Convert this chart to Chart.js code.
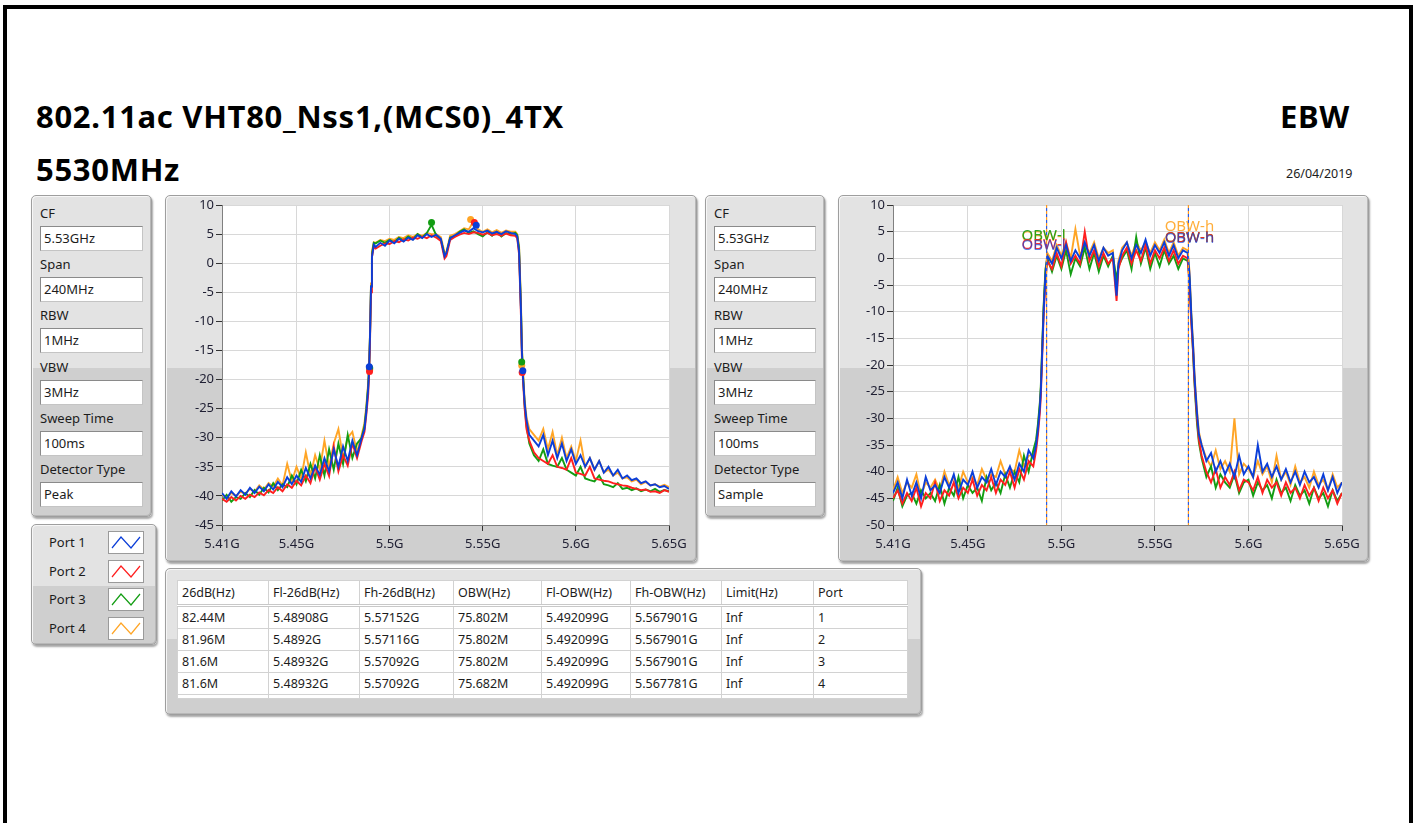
<!DOCTYPE html>
<html>
<head>
<meta charset="utf-8">
<title>EBW 802.11ac VHT80</title>
<script src="https://cdn.jsdelivr.net/npm/chart.js@4.4.1/dist/chart.umd.min.js"></script>
<style>
  body { margin:0; width:1415px; height:823px; background:#fff; overflow:hidden; position:relative;
         font-family:"Noto Sans", sans-serif; color:#1c1c1c; }
  .frame { position:absolute; left:3px; top:5px; width:1402px; height:900px; border:4px solid #000; }
  .big { position:absolute; font-weight:bold; font-size:31px; letter-spacing:0.7px; line-height:1; color:#000; white-space:nowrap; }
  .panel { position:absolute; box-sizing:border-box; border:1px solid #9e9e9e; border-radius:5px;
           box-shadow: inset 1px 1px 0 #f6f6f6, inset -1px -1px 0 #b8b8b8, 1px 2px 2px rgba(0,0,0,0.35); }
  .lbl { position:absolute; left:8px; height:18px; line-height:18px; font-size:13px; white-space:nowrap; }
  .field { position:absolute; left:8px; height:25px; box-sizing:border-box; background:#fff;
           border:1px solid #8a8a8a; border-right-color:#c4c4c4; border-bottom-color:#c4c4c4;
           font-size:13px; line-height:22px; padding-left:3px; }
  .chartbox { position:absolute; }
  .legrow { position:absolute; left:0; width:126px; height:24px; }
  .legrow span { position:absolute; left:17px; top:3px; font-size:13px; line-height:18px; }
  .legrow svg { position:absolute; left:76px; top:1px; }
  table { position:absolute; left:11px; top:11px; border-collapse:collapse; table-layout:fixed; background:#fff;
          border:1px solid #8c8c8c; font-size:12.5px; }
  td { border:1px solid #d2d2d2; height:21px; padding:0 0 0 4px; white-space:nowrap; overflow:hidden; }
  tr.head td { height:23px; border-bottom:3px double #c8c8c8; }
  tr.stub td { height:3px; }
</style>
</head>
<body>
<div class="frame"></div>
<div class="big" style="left:36px; top:101px;">802.11ac VHT80_Nss1,(MCS0)_4TX</div>
<div class="big" style="left:36px; top:154px;">5530MHz</div>
<div class="big" style="left:1280px; top:101px;">EBW</div>
<div style="position:absolute; left:1286px; top:166px; font-size:12.5px; line-height:16px;">26/04/2019</div>

<div class="panel" id="set1" style="left:31px; top:195px; width:121px; height:322px; background:linear-gradient(#e3e3e3 0 172px, #cfcfcf 172px);"></div>
<div class="panel" id="legend" style="left:31px; top:524px; width:126px; height:121px; background:linear-gradient(#e3e3e3 0 61px, #cfcfcf 61px);"></div>
<div class="panel" style="left:165px; top:195px; width:532px; height:367px; background:linear-gradient(#e3e3e3 0 172px, #cfcfcf 172px);"></div>
<div class="chartbox" style="left:165px; top:195px; width:532px; height:367px;"><canvas id="peakChart"></canvas></div>
<div class="panel" id="set2" style="left:705px; top:195px; width:120px; height:322px; background:linear-gradient(#e3e3e3 0 172px, #cfcfcf 172px);"></div>
<div class="panel" style="left:838px; top:195px; width:531px; height:367px; background:linear-gradient(#e3e3e3 0 172px, #cfcfcf 172px);"></div>
<div class="chartbox" style="left:838px; top:195px; width:531px; height:367px;"><canvas id="sampleChart"></canvas></div>
<div class="panel" id="tablePanel" style="left:165px; top:568px; width:757px; height:147px; background:linear-gradient(#e3e3e3 0 70px, #cfcfcf 70px);"></div>

<script>
// ---- analyzer settings ----
const settingNames = ['CF', 'Span', 'RBW', 'VBW', 'Sweep Time', 'Detector Type'];
const settingsPeak = ['5.53GHz', '240MHz', '1MHz', '3MHz', '100ms', 'Peak'];
const settingsSample = ['5.53GHz', '240MHz', '1MHz', '3MHz', '100ms', 'Sample'];

// ---- ports ----
const portNames = ['Port 1', 'Port 2', 'Port 3', 'Port 4'];
const portColors = ['#0b3ed8', '#ff1f1f', '#139d13', '#ffa526'];

// ---- axes ----
const xTickVals = [5.41, 5.45, 5.5, 5.55, 5.6, 5.65];   // GHz

// frequency grid of the traces (GHz)
const freqs = [
  5.410, 5.4125, 5.415, 5.4175, 5.420, 5.4225, 5.425, 5.4275, 5.430, 5.4325,
  5.435, 5.4375, 5.440, 5.4425, 5.445, 5.4475, 5.450, 5.4525, 5.455, 5.4575,
  5.460, 5.4625, 5.465, 5.4675, 5.470, 5.4725, 5.475, 5.4775, 5.480, 5.4825, 5.485,
  5.4865, 5.4875, 5.4885, 5.489, 5.4895, 5.490, 5.4905, 5.4915, 5.4925,
  5.495, 5.4975, 5.500, 5.5025, 5.505, 5.5075, 5.510, 5.5125, 5.515, 5.5175,
  5.520, 5.5225, 5.525, 5.5275, 5.5295, 5.5305, 5.5325, 5.535, 5.5375, 5.540,
  5.5425, 5.545, 5.5475, 5.550, 5.5525, 5.555, 5.5575, 5.560, 5.5625, 5.565,
  5.5675, 5.5685, 5.5695, 5.5705, 5.571, 5.5715, 5.5725, 5.5735, 5.575,
  5.5775, 5.580, 5.5825, 5.585, 5.5875, 5.590, 5.5925, 5.595, 5.5975, 5.600,
  5.6025, 5.605, 5.6075, 5.610, 5.6125, 5.615, 5.6175, 5.620, 5.6225, 5.625,
  5.6275, 5.630, 5.6325, 5.635, 5.6375, 5.640, 5.6425, 5.645, 5.6475, 5.650
];

// ---- peak detector traces (dBm) ----
const peakPort1 = [
  -39.5,-40.5,-39.2,-40.1,-39.0,-39.8,-38.6,-39.5,-38.4,-39.2,-38.0,-38.9,-37.6,-38.5,-36.8,-38.0,-36.5,-37.6,-35.2,-37.0,-34.8,-36.4,-33.5,-35.8,-32.0,-35.0,-31.5,-34.0,-30.5,-33.0,-30.0,
  -28.5,-25.5,-21.5,-18,-12,-4,1,3.2,2.8,
  3.5,3.0,3.9,3.4,4.2,3.7,4.4,4.0,4.8,4.3,5.0,4.5,4.9,4.2,1.2,1.8,4.3,4.8,5.2,5.6,5.4,6.0,5.5,5.3,5.6,5.1,5.4,5.0,5.5,5.2,
  5.0,4.6,2.0,-8,-15,-19,-24,-27,-29.5,
  -30.5,-31.5,-29.5,-33,-30.5,-33.5,-31,-34,-32,-34.5,-33,-35,-33.5,-35.5,-34,-36,-35,-36.5,-35.5,-37,-36.5,-37.3,-37,-37.8,-37.5,-38.2,-38,-38.5,-38.3,-38.8
];
const peakPort2 = [
  -40.5,-41.0,-40.2,-40.8,-40.0,-40.5,-39.8,-40.2,-39.4,-39.9,-39.0,-39.5,-38.5,-39.2,-38.0,-38.6,-37.4,-38.2,-36.5,-37.8,-35.0,-37.2,-34.5,-36.6,-31.5,-35.8,-33.0,-34.8,-31.0,-33.5,-30.5,
  -29,-26,-22.5,-18.8,-13,-5,1,2.8,2.5,
  3.0,3.4,3.3,3.8,3.6,4.1,3.9,4.4,4.2,4.6,4.3,4.8,4.4,3.8,0.8,1.2,4.0,4.5,4.9,5.2,5.0,5.3,5.2,4.9,5.2,4.8,5.0,4.7,5.1,4.8,
  4.7,4.3,1.5,-9,-16,-19.5,-25,-28.5,-30.5,
  -32.5,-33.5,-34.0,-34.5,-33.0,-35.0,-35.2,-35.5,-33.5,-36.0,-36.2,-36.5,-35.0,-37.0,-37.2,-37.4,-37.5,-37.8,-38.0,-38.2,-38.3,-38.6,-38.8,-39.0,-38.9,-39.3,-39.2,-39.5,-39.0,-39.3
];
const peakPort3 = [
  -40.8,-39.8,-41.0,-40.2,-40.5,-39.5,-40.2,-39.0,-39.8,-38.6,-39.4,-37.8,-39.0,-38.0,-38.5,-36.5,-38.0,-35.5,-37.5,-34.5,-37.0,-33.0,-36.5,-32.0,-35.5,-31.0,-34.5,-29.5,-33.5,-31.0,-30.0,
  -28,-25,-21,-17.8,-12,-4,1.5,3.5,3.4,
  3.9,3.5,4.0,3.6,4.4,3.9,4.6,4.1,5.0,4.4,5.2,6.6,4.8,4.0,1.5,1.6,4.4,4.6,5.4,5.8,5.2,5.5,5.0,4.6,5.3,4.7,5.4,4.6,5.2,5.0,
  5.2,4.8,2.5,-7.5,-14.5,-18.5,-24.5,-28,-31,
  -33,-34,-32,-34.5,-34.8,-35,-33.5,-35.5,-36,-36.5,-35,-37,-37.3,-37.5,-36.5,-38,-38.2,-38.5,-37.8,-38.8,-38.6,-39,-38.7,-39.2,-38.9,-39.2,-38.8,-39.3,-39,-39.2
];
const peakPort4 = [
  -39.8,-40.3,-39.5,-40.0,-39.3,-39.6,-38.8,-39.3,-38.2,-38.9,-37.8,-38.4,-37.0,-38.2,-34.5,-37.5,-35.0,-37.0,-32.5,-36.5,-33.0,-35.5,-30.5,-35.0,-31.0,-28.5,-33.5,-30.0,-29.0,-32.5,-29.5,
  -27.5,-24.5,-20.5,-17.5,-11.5,-3.5,2,3.6,3.5,
  4.0,3.8,4.2,4.0,4.5,4.3,4.8,4.5,5.0,4.7,5.2,5.0,5.0,4.5,1.8,2.0,4.7,5.0,5.5,6.0,5.8,7.2,5.8,5.4,5.8,5.3,5.7,5.2,5.6,5.4,
  5.4,5.0,3.0,-6.5,-14,-18,-23.5,-26.5,-28.5,
  -29.5,-30.5,-28.5,-32.0,-29.0,-33.0,-30.0,-33.5,-31.5,-34.0,-30.5,-35.0,-33.5,-35.5,-34.0,-36.0,-35.5,-36.5,-36.0,-37.0,-36.8,-37.5,-37.2,-38.0,-37.6,-38.2,-38.0,-38.4,-38.1,-38.5
];

// markers on the peak chart: -26 dB edges and peak
const markerFreqs = [
  [5.48908, 5.57152, 5.5465],
  [5.4892, 5.57116, 5.5455],
  [5.48932, 5.57092, 5.5225],
  [5.48932, 5.57092, 5.5435]
];
const markerLevels = [
  [-17.8, -18.5, 6.5],
  [-18.6, -18.8, 7.0],
  [-18.0, -17.0, 7.0],
  [-18.3, -17.6, 7.5]
];

// ---- sample detector traces (dBm) ----
const samplePort1 = [
  -44,-42,-45,-41.5,-44.5,-42,-45,-41,-43.5,-42.5,-44,-41,-43,-40.5,-44,-41.5,-42.5,-40,-43,-41,-42,-39.5,-42.5,-40,-41,-39,-41.5,-38.5,-40,-36,-37.5,
  -35,-32,-28,-25,-20,-15,-10,-3,0.5,
  -1,2,0,2.5,-0.5,1.5,0,3,0.5,2.5,-0.5,2,0.5,1,-7,-1,1.5,3,0,2.5,1,3.5,0.5,2.5,1,3,0.5,2.5,0,1.5,
  1,-3,-11,-17,-21,-24,-29,-33,-35,
  -38,-36.5,-40,-38,-40.5,-38.5,-41,-37,-40.5,-39,-41,-35,-40,-38.5,-41,-39,-41.5,-39.5,-42,-40,-42.5,-40,-42,-41,-43,-40.5,-43.5,-41,-44,-42
];
const samplePort2 = [
  -45,-43.5,-46,-44,-45.5,-43,-46.5,-44,-45,-42,-45.5,-43.5,-44.5,-42,-45,-43,-44,-41.5,-44.5,-42.5,-43.5,-41,-44,-41.5,-42.5,-40,-43,-39.5,-41.5,-38,-39,
  -36,-33,-29,-26,-21,-16,-11,-4,-0.5,
  -2,1,-1.5,3,-1,0.5,-1,5,-0.5,1.5,-1.5,1,-1,0,-8,-2,0.5,2,-1,1.5,-0.5,2.5,-1,1.5,0,2,-0.5,1.5,-1,0.5,
  0,-5,-12.5,-18,-22,-25,-30,-34,-37,
  -40,-42,-39.5,-43,-41,-42.5,-40,-43.5,-41.5,-42,-43.5,-41,-44,-41.5,-43,-42,-44.5,-42,-44,-43,-45,-42.5,-44.5,-43,-45.5,-43,-45,-43.5,-46,-44
];
const samplePort3 = [
  -45.5,-43,-46.5,-44.5,-44,-46,-43.5,-45,-44,-45.5,-42.5,-46,-43,-44.5,-41,-45,-42.5,-44,-43,-45.5,-41,-43.5,-42,-44,-40.5,-43,-40,-42,-37,-40,-36,
  -34,-31,-27,-24,-19,-14,-9,-2,0,
  -2.5,0.5,-2,1.5,-3,0,-1.5,2,-2,1,-2.5,0.5,-1.5,0.5,-4,-1.5,0,1.5,-2,4,-1,2,-2,1,-1.5,1.5,-1,0.5,-2,0,
  -0.5,-4,-11.5,-18.5,-22.5,-25.5,-31,-34.5,-37.5,
  -41,-39,-43,-40.5,-42,-43,-40.5,-44,-42,-41.5,-44.5,-42,-43.5,-42.5,-45,-41.5,-44,-43,-45.5,-42.5,-44.5,-43.5,-46,-43,-45,-44,-46.5,-43.5,-45.5,-44
];
const samplePort4 = [
  -43.5,-41,-44,-42,-43,-40.5,-44.5,-42,-43,-41.5,-43.5,-40,-42.5,-41,-43,-40,-42,-41,-42.5,-39.5,-41.5,-40.5,-41,-38,-40.5,-39.5,-40,-36,-39,-37,-37,
  -34.5,-31.5,-27.5,-24.5,-19.5,-14.5,-9.5,-2.5,1,
  -0.5,2.5,0.5,3,0,5.5,0.5,2.5,1,3,0,2,1,1.5,-6,-0.5,2,3,0.5,3,1.5,3,1,3,1.5,3.5,1,3,0.5,2,
  1.5,-2.5,-10.5,-16.5,-20.5,-23.5,-28.5,-32.5,-35,
  -37.5,-39,-36,-39.5,-38,-40,-30,-40.5,-38.5,-39.5,-41,-38,-40.5,-39,-42,-37,-41.5,-40,-42.5,-39,-42,-41,-43,-40,-42.5,-41.5,-43.5,-40.5,-43,-42
];

// OBW edges and their marker labels (sample chart)
const obwLow = 5.492099;
const obwHigh = 5.567901;
const obwLowLabelY = [2.4, 2.6, 4.3, 4.0];    // port 1..4
const obwHighLabelY = [3.7, 3.9, 3.9, 5.9];

// ---- result table ----
const tableHead = ['26dB(Hz)', 'Fl-26dB(Hz)', 'Fh-26dB(Hz)', 'OBW(Hz)', 'Fl-OBW(Hz)', 'Fh-OBW(Hz)', 'Limit(Hz)', 'Port'];
const bw26 = ['82.44M', '81.96M', '81.6M', '81.6M'];
const fl26 = ['5.48908G', '5.4892G', '5.48932G', '5.48932G'];
const fh26 = ['5.57152G', '5.57116G', '5.57092G', '5.57092G'];
const obw = ['75.802M', '75.802M', '75.802M', '75.682M'];
const flObw = ['5.492099G', '5.492099G', '5.492099G', '5.492099G'];
const fhObw = ['5.567901G', '5.567901G', '5.567901G', '5.567781G'];
const limit = ['Inf', 'Inf', 'Inf', 'Inf'];
const portNo = ['1', '2', '3', '4'];
const colWidths = [91, 91, 94, 88, 89, 91, 92, 94];


// builds one settings cluster
function buildSettings(id, values) {
    const panel = document.getElementById(id);
    settingNames.forEach((name, i) => {
        const lbl = document.createElement('div');
        lbl.className = 'lbl';
        lbl.style.top = (8 + i * 51.2) + 'px';
        lbl.textContent = name;
        panel.appendChild(lbl);

        const box = document.createElement('div');
        box.className = 'field';
        box.style.top = (30 + i * 51.2) + 'px';
        box.style.width = (id === 'set1' ? 103 : 102) + 'px';
        box.textContent = values[i];
        panel.appendChild(box);
    });
}

function buildLegend() {
    const panel = document.getElementById('legend');
    portNames.forEach((name, i) => {
        const row = document.createElement('div');
        row.className = 'legrow';
        row.style.top = (5 + i * 28.5) + 'px';
        row.innerHTML = '<span>' + name + '</span>' +
            '<svg width="36" height="23"><rect x="0.5" y="0.5" width="35" height="22" fill="#fff" stroke="#9a9a9a"/>' +
            '<polyline points="4,17 13,6 23,17 32,6" fill="none" stroke="' + portColors[i] + '" stroke-width="1.2"/></svg>';
        panel.appendChild(row);
    });
}

function buildTable() {
    const table = document.createElement('table');
    const cg = document.createElement('colgroup');
    colWidths.forEach(w => {
        const c = document.createElement('col');
        c.style.width = w + 'px';
        cg.appendChild(c);
    });
    table.appendChild(cg);

    const addRow = (cells, cls) => {
        const tr = document.createElement('tr');
        if (cls) tr.className = cls;
        cells.forEach(t => {
            const td = document.createElement('td');
            td.textContent = t;
            tr.appendChild(td);
        });
        table.appendChild(tr);
    };
    addRow(tableHead, 'head');
    for (let i = 0; i < bw26.length; i++) {
        addRow([bw26[i], fl26[i], fh26[i], obw[i], flObw[i], fhObw[i], limit[i], portNo[i]]);
    }
    addRow(['', '', '', '', '', '', '', ''], 'stub');
    document.getElementById('tablePanel').appendChild(table);
}


// white plot area behind the traces
const plotBg = {
    id: 'plotBg',
    beforeDraw(chart) {
        const { ctx, chartArea: a } = chart;
        ctx.save();
        ctx.fillStyle = '#ffffff';
        ctx.fillRect(a.left, a.top, a.width, a.height);
        ctx.restore();
    }
};

// OBW-l / OBW-h cursor names on the sample chart
const obwText = {
    id: 'obwText',
    afterDatasetsDraw(chart) {
        const { ctx, scales } = chart;
        ctx.save();
        ctx.font = '15px "Noto Sans"';
        ctx.textAlign = 'center';
        ctx.textBaseline = 'middle';
        [3, 2, 1, 0].forEach(p => {
            ctx.globalAlpha = p === 0 ? 0.65 : 0.9;
            ctx.fillStyle = portColors[p];
            ctx.fillText('OBW-l', scales.x.getPixelForValue(obwLow) - 3, scales.y.getPixelForValue(obwLowLabelY[p]));
            ctx.fillText('OBW-h', scales.x.getPixelForValue(obwHigh) + 1, scales.y.getPixelForValue(obwHighLabelY[p]));
        });
        ctx.restore();
    }
};

function toPoints(values) {
    return freqs.map((f, i) => ({ x: f, y: values[i] }));
}

function traceSet(values, color) {
    return {
        data: toPoints(values),
        borderColor: color,
        borderWidth: 1.9,
        pointRadius: 0,
        tension: 0
    };
}

function spectrumChart(canvasId, datasets, yMin, axisWidth, rightPad, extraPlugins) {
    const tickFont = { family: '"Noto Sans"', size: 13 };
    return new Chart(document.getElementById(canvasId), {
        type: 'line',
        data: { datasets: datasets },
        options: {
            responsive: true,
            maintainAspectRatio: false,
            animation: false,
            events: [],
            layout: { padding: { left: 0, top: 10, right: rightPad, bottom: 0 } },
            plugins: { legend: { display: false }, tooltip: { enabled: false } },
            scales: {
                x: {
                    type: 'linear',
                    min: 5.41,
                    max: 5.65,
                    afterBuildTicks: s => { s.ticks = xTickVals.map(v => ({ value: v })); },
                    afterFit: s => {
                        s.height = 37;
                        s.paddingLeft = s.paddingRight = s.paddingTop = s.paddingBottom = 0;
                    },
                    grid: { color: '#d8d8d8', tickColor: '#333', tickLength: 6 },
                    border: { color: '#808080' },
                    ticks: {
                        font: tickFont, color: '#1f1f33', padding: 5, maxRotation: 0, autoSkip: false,
                        callback: v => v + 'G'
                    }
                },
                y: {
                    min: yMin,
                    max: 10,
                    afterFit: s => {
                        s.width = axisWidth;
                        s.paddingLeft = s.paddingRight = s.paddingTop = s.paddingBottom = 0;
                    },
                    grid: { color: '#d8d8d8', tickColor: '#333', tickLength: 6 },
                    border: { color: '#808080' },
                    ticks: { stepSize: 5, font: tickFont, color: '#1f1f33', padding: 2, autoSkip: false }
                }
            }
        },
        plugins: [plotBg].concat(extraPlugins)
    });
}


buildSettings('set1', settingsPeak);
buildSettings('set2', settingsSample);
buildLegend();
buildTable();

// peak chart: markers on top, then blue, red, green, orange
const peakSets = [];
for (let p = 0; p < 4; p++) {
    peakSets.push({
        data: markerFreqs[p].map((f, i) => ({ x: f, y: markerLevels[p][i] })),
        showLine: false,
        pointRadius: 3.5,
        pointBorderWidth: 0,
        pointBackgroundColor: portColors[p],
        borderColor: portColors[p]
    });
}
[peakPort1, peakPort2, peakPort3, peakPort4].forEach((vals, p) => peakSets.push(traceSet(vals, portColors[p])));
spectrumChart('peakChart', peakSets, -45, 57, 28, []);

// sample chart: dashed OBW cursors on top of the traces
const sampleSets = [];
[obwLow, obwHigh].forEach(f => {
    sampleSets.push({
        data: [{ x: f, y: 10 }, { x: f, y: -50 }],
        borderColor: '#2f5be0', borderWidth: 1.2, borderDash: [3, 3], borderDashOffset: 3, pointRadius: 0
    });
    sampleSets.push({
        data: [{ x: f, y: 10 }, { x: f, y: -50 }],
        borderColor: '#ff9a1f', borderWidth: 1.2, borderDash: [3, 3], pointRadius: 0
    });
});
[samplePort1, samplePort2, samplePort3, samplePort4].forEach((vals, p) => sampleSets.push(traceSet(vals, portColors[p])));
spectrumChart('sampleChart', sampleSets, -50, 55, 27, [obwText]);
</script>
</body>
</html>
